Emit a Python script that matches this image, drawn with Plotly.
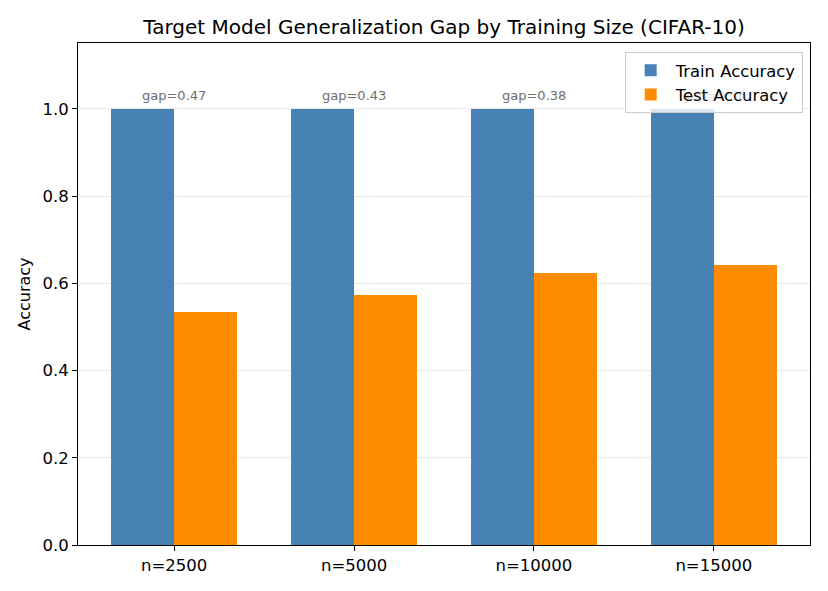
import plotly.graph_objects as go

categories = ["n=2500", "n=5000", "n=10000", "n=15000"]
train_acc = [1.0, 1.0, 1.0, 1.0]
test_acc = [0.534, 0.573, 0.624, 0.642]
gap_labels = ["gap=0.47", "gap=0.43", "gap=0.38", "gap=0.36"]
# last label sits behind the semi-transparent legend in the reference
gap_colors = ["#6e6e6e", "#6e6e6e", "#6e6e6e", "rgba(110,110,110,0.22)"]

pos = list(range(len(categories)))
W = 0.35
font = "DejaVu Sans, Verdana, sans-serif"

fig = go.Figure()
fig.add_trace(go.Bar(x=pos, y=train_acc, width=W, offset=-W, name="Train Accuracy",
                     marker=dict(color="#4682b4", line=dict(width=0))))
fig.add_trace(go.Bar(x=pos, y=test_acc, width=W, offset=0, name="Test Accuracy",
                     marker=dict(color="#ff8c00", line=dict(width=0))))

for p, t, tr, c in zip(pos, gap_labels, train_acc, gap_colors):
    fig.add_annotation(x=p, y=tr + 0.01, text=t, showarrow=False, yanchor="bottom",
                       xanchor="center", font=dict(family=font, size=13, color=c))

fig.update_layout(
    width=828, height=591,
    margin=dict(l=78, r=18, t=43, b=46),
    paper_bgcolor="white", plot_bgcolor="white",
    font=dict(family=font, size=16, color="black"),
    title=dict(text="Target Model Generalization Gap by Training Size (CIFAR-10)",
               x=(78 + 810) / 2 / 828, xanchor="center", y=1 - 27 / 591, yanchor="middle",
               font=dict(size=20, family=font, color="black")),
    showlegend=True,
    legend=dict(x=0.99, y=0.982, xanchor="right", yanchor="top",
                bgcolor="rgba(255,255,255,0.8)", bordercolor="#cccccc", borderwidth=1,
                font=dict(size=16.4, family=font), tracegroupgap=0, itemwidth=40),
    bargap=0,
)
fig.update_xaxes(range=[-0.535, 3.535], tickvals=pos, ticktext=categories,
                 showline=True, mirror=True, linecolor="black", linewidth=1,
                 ticks="outside", ticklen=5, tickcolor="black", showgrid=False,
                 tickfont=dict(size=16.5), zeroline=False)
fig.update_yaxes(range=[0, 1.151], tickvals=[0, 0.2, 0.4, 0.6, 0.8, 1.0],
                 ticktext=["0.0", "0.2", "0.4", "0.6", "0.8", "1.0"],
                 showline=True, mirror=True, linecolor="black", linewidth=1,
                 ticks="outside", ticklen=5, tickcolor="black",
                 showgrid=True, gridcolor="rgba(200,200,200,0.4)", gridwidth=1,
                 zeroline=False, layer="above traces",
                 title=dict(text="Accuracy", font=dict(size=16), standoff=7),
                 tickfont=dict(size=16.5))

fig.write_html("out.html")
